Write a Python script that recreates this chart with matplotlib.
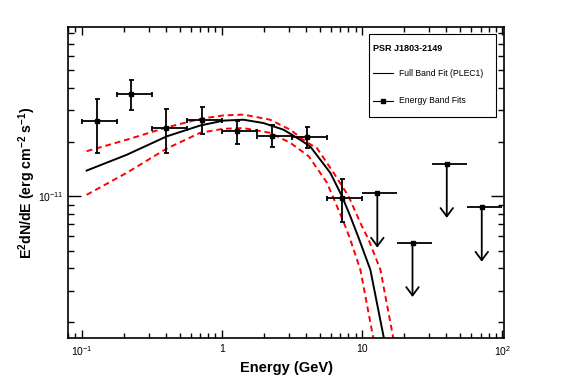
import matplotlib
matplotlib.use("Agg")
import matplotlib.pyplot as plt
import numpy as np
from matplotlib.ticker import LogLocator, NullFormatter, FixedLocator, FixedFormatter

plt.rcParams['font.family'] = ['Liberation Sans', 'DejaVu Sans']
plt.rcParams['mathtext.fontset'] = 'custom'
plt.rcParams['mathtext.rm'] = 'Liberation Sans'
plt.rcParams['mathtext.it'] = 'Liberation Sans:italic'
plt.rcParams['mathtext.bf'] = 'Liberation Sans:bold'

# energy band fits (GeV, erg cm^-2 s^-1)
band_e = [0.128, 0.226, 0.402, 0.723, 1.285, 2.29, 4.06, 7.14]
band_lo = [0.1, 0.178, 0.316, 0.562, 1.0, 1.78, 3.16, 5.62]
band_hi = [0.178, 0.316, 0.562, 1.0, 1.78, 3.16, 5.62, 10.0]
band_flux = [2.63e-11, 3.71e-11, 2.40e-11, 2.65e-11, 2.31e-11, 2.17e-11, 2.12e-11, 9.83e-12]
band_flux_hi = [3.48e-11, 4.40e-11, 3.05e-11, 3.12e-11, 2.63e-11, 2.48e-11, 2.41e-11, 1.25e-11]
band_flux_lo = [1.75e-11, 3.03e-11, 1.75e-11, 2.23e-11, 1.96e-11, 1.87e-11, 1.85e-11, 7.18e-12]

# upper limits
ul_e = [12.85, 22.9, 40.2, 71.4]
ul_lo = [10.0, 17.8, 31.6, 56.2]
ul_hi = [17.8, 31.6, 56.2, 100.0]
ul_flux = [1.04e-11, 5.54e-12, 1.52e-11, 8.69e-12]

# full band fit (PLEC1)
fit_e = [0.1086, 0.2096, 0.404, 0.700, 1.026, 1.426, 1.98, 2.76, 3.62, 4.27,
         5.94, 7.20, 8.25, 9.46, 11.46, 14.4]
fit_flux = [1.39e-11, 1.70e-11, 2.15e-11, 2.47e-11, 2.63e-11, 2.66e-11, 2.55e-11,
            2.34e-11, 2.06e-11, 1.89e-11, 1.35e-11, 1.00e-11, 7.75e-12, 5.88e-12,
            3.92e-12, 1.6e-12]

up_e = [0.1086, 0.2096, 0.404, 0.700, 1.026, 1.426, 2.21, 3.08, 3.94, 4.77,
        6.27, 8.02, 9.73, 11.14, 13.52, 16.8]
up_flux = [1.78e-11, 2.06e-11, 2.41e-11, 2.69e-11, 2.81e-11, 2.84e-11, 2.66e-11,
           2.34e-11, 2.02e-11, 1.85e-11, 1.35e-11, 1.00e-11, 7.12e-12, 5.75e-12,
           3.92e-12, 1.6e-12]

low_e = [0.1086, 0.2096, 0.404, 0.700, 1.026, 1.426, 2.21, 3.08, 4.16, 5.62,
         6.63, 7.60, 8.25, 9.73, 12.1]
low_flux = [1.02e-11, 1.35e-11, 1.84e-11, 2.25e-11, 2.37e-11, 2.39e-11, 2.25e-11,
            1.98e-11, 1.67e-11, 1.19e-11, 8.80e-12, 6.82e-12, 5.75e-12, 3.92e-12,
            1.6e-12]

fig = plt.figure(figsize=(5.67, 3.84), dpi=100)
ax = fig.add_axes([0.12, 0.121, 0.769, 0.809])
ax.set_xscale('log')
ax.set_yscale('log')
ax.set_xlim(0.08, 103)
ax.set_ylim(1.65e-12, 8.7e-11)

be = np.array(band_e)
bf = np.array(band_flux)
ax.errorbar(be, bf,
            xerr=[be - np.array(band_lo), np.array(band_hi) - be],
            yerr=[bf - np.array(band_flux_lo), np.array(band_flux_hi) - bf],
            fmt='s', color='black', ms=3.2, lw=1.3, capsize=1.8, capthick=1.3, zorder=3)

ue = np.array(ul_e)
uf = np.array(ul_flux)
ax.errorbar(ue, uf, xerr=[ue - np.array(ul_lo), np.array(ul_hi) - ue],
            fmt='s', color='black', ms=3.2, lw=1.3, capsize=0, zorder=3)
for e, f in zip(ul_e, ul_flux):
    ax.annotate('', xy=(e, f * 0.5), xytext=(e, f),
                arrowprops=dict(arrowstyle='->, head_length=0.6, head_width=0.45',
                                color='black', lw=1.3, shrinkA=0, shrinkB=0))

ax.plot(fit_e, fit_flux, color='black', lw=1.4, zorder=2)
ax.plot(up_e, up_flux, color='red', lw=1.4, dashes=(3, 2), zorder=2)
ax.plot(low_e, low_flux, color='red', lw=1.4, dashes=(3, 2), zorder=2)

# axes styling (ROOT-like)
for s in ax.spines.values():
    s.set_linewidth(1.2)
ax.xaxis.set_major_locator(FixedLocator([0.1, 1, 10, 100]))
ax.xaxis.set_major_formatter(FixedFormatter(['$10^{-1}$', '1', '10', '$10^{2}$']))
ax.xaxis.set_minor_locator(LogLocator(base=10, subs=np.arange(2, 10), numticks=20))
ax.xaxis.set_minor_formatter(NullFormatter())
ax.yaxis.set_major_locator(FixedLocator([1e-11]))
ax.yaxis.set_major_formatter(FixedFormatter(['$10^{-11}$']))
ax.yaxis.set_minor_locator(LogLocator(base=10, subs=np.arange(2, 10), numticks=20))
ax.yaxis.set_minor_formatter(NullFormatter())
ax.tick_params(which='both', direction='in', top=True, right=True, labelsize=7.5, width=1.0)
ax.tick_params(axis='x', which='major', length=6, pad=5)
ax.tick_params(axis='x', which='minor', length=3.5)
ax.tick_params(axis='y', which='major', length=9.5, pad=3)
ax.tick_params(axis='y', which='minor', length=4.5)

ax.set_xlabel('Energy (GeV)', fontsize=10.5, fontweight='bold')
ax.xaxis.set_label_coords(0.5, -0.075)
ax.set_ylabel(r'$\mathbf{E^{2}dN/dE\ (erg\ cm^{-2}\ s^{-1})}$', fontsize=10.2)
ax.yaxis.set_label_coords(-0.068, 0.5)

# legend box
ax.add_patch(plt.Rectangle((0.691, 0.709), 0.291, 0.268, transform=ax.transAxes,
                           fill=True, facecolor='white', edgecolor='black', lw=0.8, zorder=5))
ax.text(0.699, 0.929, 'PSR J1803-2149', transform=ax.transAxes, fontsize=6.5,
        fontweight='bold', va='center', ha='left', zorder=6)
ax.plot([0.699, 0.745], [0.851, 0.851], transform=ax.transAxes, color='black', lw=0.8, zorder=6)
ax.text(0.760, 0.851, 'Full Band Fit (PLEC1)', transform=ax.transAxes, fontsize=6.2,
        va='center', ha='left', zorder=6)
ax.plot([0.699, 0.745], [0.763, 0.763], transform=ax.transAxes, color='black', lw=0.8, zorder=6)
ax.plot([0.722], [0.763], 's', transform=ax.transAxes, color='black', ms=3.5, zorder=6)
ax.text(0.760, 0.763, 'Energy Band Fits', transform=ax.transAxes, fontsize=6.2,
        va='center', ha='left', zorder=6)

fig.savefig('out.png', dpi=100)
